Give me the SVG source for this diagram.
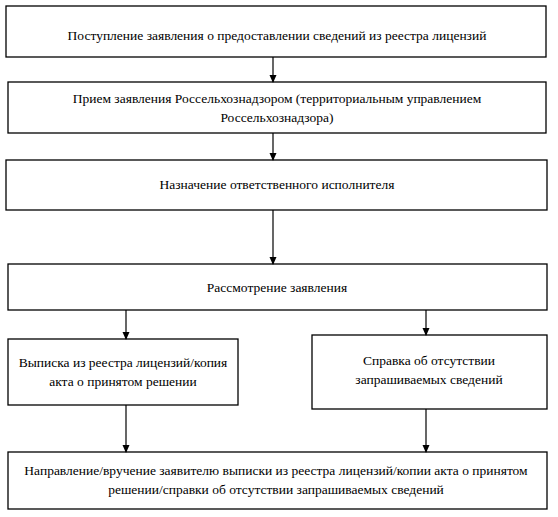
<svg xmlns="http://www.w3.org/2000/svg" width="558" height="517" viewBox="0 0 558 517">
<style>
.box{fill:#fff;stroke:#000;stroke-width:1.3}
.t{font-family:'Liberation Serif','DejaVu Serif',serif;font-size:13.5px;fill:#000;text-anchor:middle}
.c{stroke:#000;stroke-width:1.2;fill:none}
</style>
<defs>
<marker id="ah" markerWidth="8" markerHeight="8" refX="7" refY="4" orient="auto" markerUnits="userSpaceOnUse">
<path d="M0,0.5 L8,4 L0,7.5 Z" fill="#000"/>
</marker>
</defs>
<rect width="558" height="517" fill="#fff"/>
<g id="n1"><rect class="box" x="6" y="6" width="540" height="51"/>
<text class="t" x="277" y="40">Поступление заявления о предоставлении сведений из реестра лицензий</text></g>
<g id="n2"><rect class="box" x="8" y="82" width="538" height="51"/>
<text class="t" x="277" y="103">Прием заявления Россельхознадзором (территориальным управлением</text>
<text class="t" x="277" y="122">Россельхознадзора)</text></g>
<g id="n3"><rect class="box" x="6" y="160" width="541" height="50"/>
<text class="t" x="277" y="189">Назначение ответственного исполнителя</text></g>
<g id="n4"><rect class="box" x="8" y="264" width="539" height="46"/>
<text class="t" x="277" y="292">Рассмотрение заявления</text></g>
<g id="n5"><rect class="box" x="8" y="339" width="230" height="66"/>
<text class="t" x="123" y="367">Выписка из реестра лицензий/копия</text>
<text class="t" x="123" y="386">акта о принятом решении</text></g>
<g id="n6"><rect class="box" x="312" y="335" width="235" height="74"/>
<text class="t" x="429" y="365">Справка об отсутствии</text>
<text class="t" x="429" y="384">запрашиваемых сведений</text></g>
<g id="n7"><rect class="box" x="8" y="452" width="539" height="57"/>
<text class="t" x="276" y="475">Направление/вручение заявителю выписки из реестра лицензий/копии акта о принятом</text>
<text class="t" x="276" y="494">решении/справки об отсутствии запрашиваемых сведений</text></g>
<g id="connectors">
<line class="c" x1="273" y1="57" x2="273" y2="82" marker-end="url(#ah)"/>
<line class="c" x1="273" y1="133" x2="273" y2="160" marker-end="url(#ah)"/>
<line class="c" x1="273" y1="210" x2="273" y2="264" marker-end="url(#ah)"/>
<line class="c" x1="126" y1="310" x2="126" y2="339" marker-end="url(#ah)"/>
<line class="c" x1="426" y1="310" x2="426" y2="335" marker-end="url(#ah)"/>
<line class="c" x1="126" y1="405" x2="126" y2="452" marker-end="url(#ah)"/>
<line class="c" x1="426" y1="409" x2="426" y2="452" marker-end="url(#ah)"/>
</g>
</svg>
